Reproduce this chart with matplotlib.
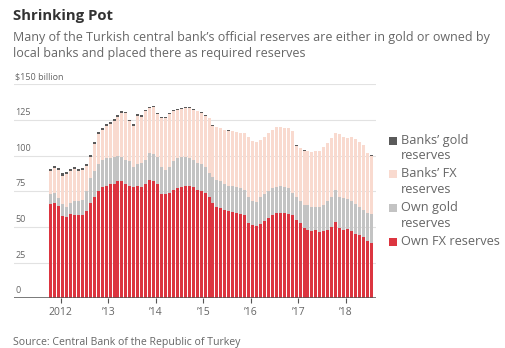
import numpy as np
import pandas as pd
import matplotlib
matplotlib.use("Agg")
import matplotlib.pyplot as plt
from matplotlib.patches import Rectangle

# monthly values, $ billion, Oct 2011 - Jul 2018
months = pd.date_range("2011-10-01", "2018-07-01", freq="MS") + pd.Timedelta(days=14)

own_fx = [66, 67, 64.5, 57.5, 57, 59, 58.5, 58, 58.5, 61,
          67, 71, 75, 78, 79, 80, 80, 82, 82, 80,
          79, 78, 79, 78, 80, 83, 82, 80, 73, 73,
          74, 76, 77, 78, 79, 78.5, 78, 76, 75, 74,
          71, 67, 64, 63, 62, 61, 60.5, 60, 59, 58,
          53, 51, 50.5, 52, 54, 56, 58, 59.5, 60, 60,
          59, 58, 55, 53, 49, 48, 47, 47.5, 46.5, 47,
          48, 50, 53.5, 49, 48, 48.5, 47, 45, 44, 43,
          40, 38.5]
own_gold = [7, 6.5, 5.5, 8.5, 7, 8, 9.5, 10, 10.5, 14,
            17, 18, 19, 19, 19, 18, 19, 18, 17, 17,
            17, 14, 15, 17, 17, 19, 19, 19, 19, 17,
            18, 20, 21, 21, 20, 19.5, 19, 19, 19, 18,
            17, 18, 19, 19, 18, 18, 18, 18, 18, 18,
            18, 17, 17, 19, 19, 19, 19, 18.5, 18.5, 18,
            18, 16, 16, 15, 16, 17, 17, 16.5, 17.5, 18,
            20, 21, 22.5, 22, 22, 21, 21.5, 21, 20, 19,
            20, 20.5]
banks_fx = [16, 17.5, 20, 20, 23, 22, 22.5, 21, 21, 18,
            15, 19, 21, 21, 23, 24, 25, 27, 31, 32.5,
            28, 29, 34, 32, 34, 31, 33, 30, 34, 36,
            37, 35, 34, 33.5, 34, 35, 35, 36, 36, 36,
            38, 36, 37, 37, 38, 38.5, 38.5, 38.5, 39, 39.5,
            42, 42, 42, 40, 40, 40.5, 41, 42, 41.5, 41.5,
            42, 43, 36, 37, 38.5, 38, 38.5, 39, 39, 41,
            41, 41, 39.5, 44, 43, 43, 44.5, 45.5, 45.5, 45.5,
            42, 41]
banks_gold = [1.5, 1.8, 1.5, 1.5, 1.8, 1.5, 1.6, 1.5, 1.5, 1.4,
              1.4, 1.4, 1.3, 1.3, 1.4, 1.4, 1.3, 1.3, 1.2, 1.2,
              1.2, 1.2, 1.2, 1.1, 1.1, 1.1, 1.0, 1.0, 1.0, 1.0,
              0.9, 0.9, 0.8, 0.8, 0.7, 0.7, 0.6, 0.5, 0.5, 0.4,
              0.3, 0.2, 0.1, 0.1, 0.1, 0.1, 0.1, 0.1, 0.1, 0.1,
              0.1, 0.1, 0.1, 0.1, 0.1, 0.1, 0.1, 0.1, 0.1, 0.1,
              0.1, 0.1, 0.1, 0.1, 0.1, 0.1, 0.1, 0.1, 0.1, 0.1,
              0.1, 0.1, 0.1, 0.1, 0.1, 0.1, 0.1, 0.1, 0.1, 0.1,
              0.1, 0.1]

series = [("Own FX reserves", own_fx, "#dc3540"),
          ("Own gold\nreserves", own_gold, "#c3c3c3"),
          ("Banks\u2019 FX\nreserves", banks_fx, "#f9dacf"),
          ("Banks\u2019 gold\nreserves", banks_gold, "#5a5a5a")]

year_ticks = pd.to_datetime(["2012-01-01", "2013-01-01", "2014-01-01", "2015-01-01",
                             "2016-01-01", "2017-01-01", "2018-01-01"])
year_labels = ["2012", "\u201913", "\u201914", "\u201915", "\u201916", "\u201917", "\u201918"]
y_ticks = [0, 25, 50, 75, 100, 125, 150]
y_labels = ["0", "25", "50", "75", "100", "125", "$150 billion"]

plt.rcParams["font.family"] = ["Open Sans", "DejaVu Sans"]
txt = "#666666"

fig = plt.figure(figsize=(5.06, 3.48), dpi=100)
ax = fig.add_axes([0.028, 0.143, 0.715, 0.615])

bottom = np.zeros(len(months))
for name, vals, col in series:
    vals = np.array(vals)
    ax.bar(months, vals, bottom=bottom, width=24, color=col, linewidth=0, zorder=2)
    bottom += vals

ax.set_ylim(0, 150)
ax.set_xlim(pd.Timestamp("2011-01-07"), pd.Timestamp("2018-08-21"))

for v in y_ticks[1:]:
    ax.axhline(v, color="#e2e2e2", lw=0.8, zorder=1)
ax.axhline(0, color="#555555", lw=1.1, zorder=3)
for v, lab in zip(y_ticks, y_labels):
    ax.text(0.003, v + 2.0, lab, transform=ax.get_yaxis_transform(),
            fontsize=6.5, color=txt, ha="left", va="bottom")

ax.set_yticks([])
ax.set_xticks(year_ticks)
ax.set_xticklabels(year_labels, fontsize=7.5, color=txt)
ax.tick_params(axis="x", length=3.5, width=0.8, color="#555555", pad=3)
for s in ax.spines.values():
    s.set_visible(False)

fig.text(0.026, 0.955, "Shrinking Pot", fontsize=10.7, fontweight="bold", color="#333333", va="center")
fig.text(0.026, 0.893, "Many of the Turkish central bank\u2019s official reserves are either in gold or owned by",
         fontsize=9.0, color=txt, va="center")
fig.text(0.026, 0.846, "local banks and placed there as required reserves",
         fontsize=9.0, color=txt, va="center")
fig.text(0.026, 0.015, "Source: Central Bank of the Republic of Turkey", fontsize=7.6, color=txt, va="center")

# legend, drawn top-down
leg_rows = [140.7, 174, 208.3, 241.7]
for (name, vals, col), ypix in zip(series[::-1], leg_rows):
    yf = 1 - ypix / 348
    fig.add_artist(Rectangle((389 / 506, yf - 4 / 348), 8 / 506, 8 / 348,
                             transform=fig.transFigure, color=col, lw=0))
    fig.text(401 / 506, yf + 7 / 348, name, fontsize=9.2, color=txt, va="top",
             linespacing=1.27)

fig.savefig("out.png", dpi=100)
